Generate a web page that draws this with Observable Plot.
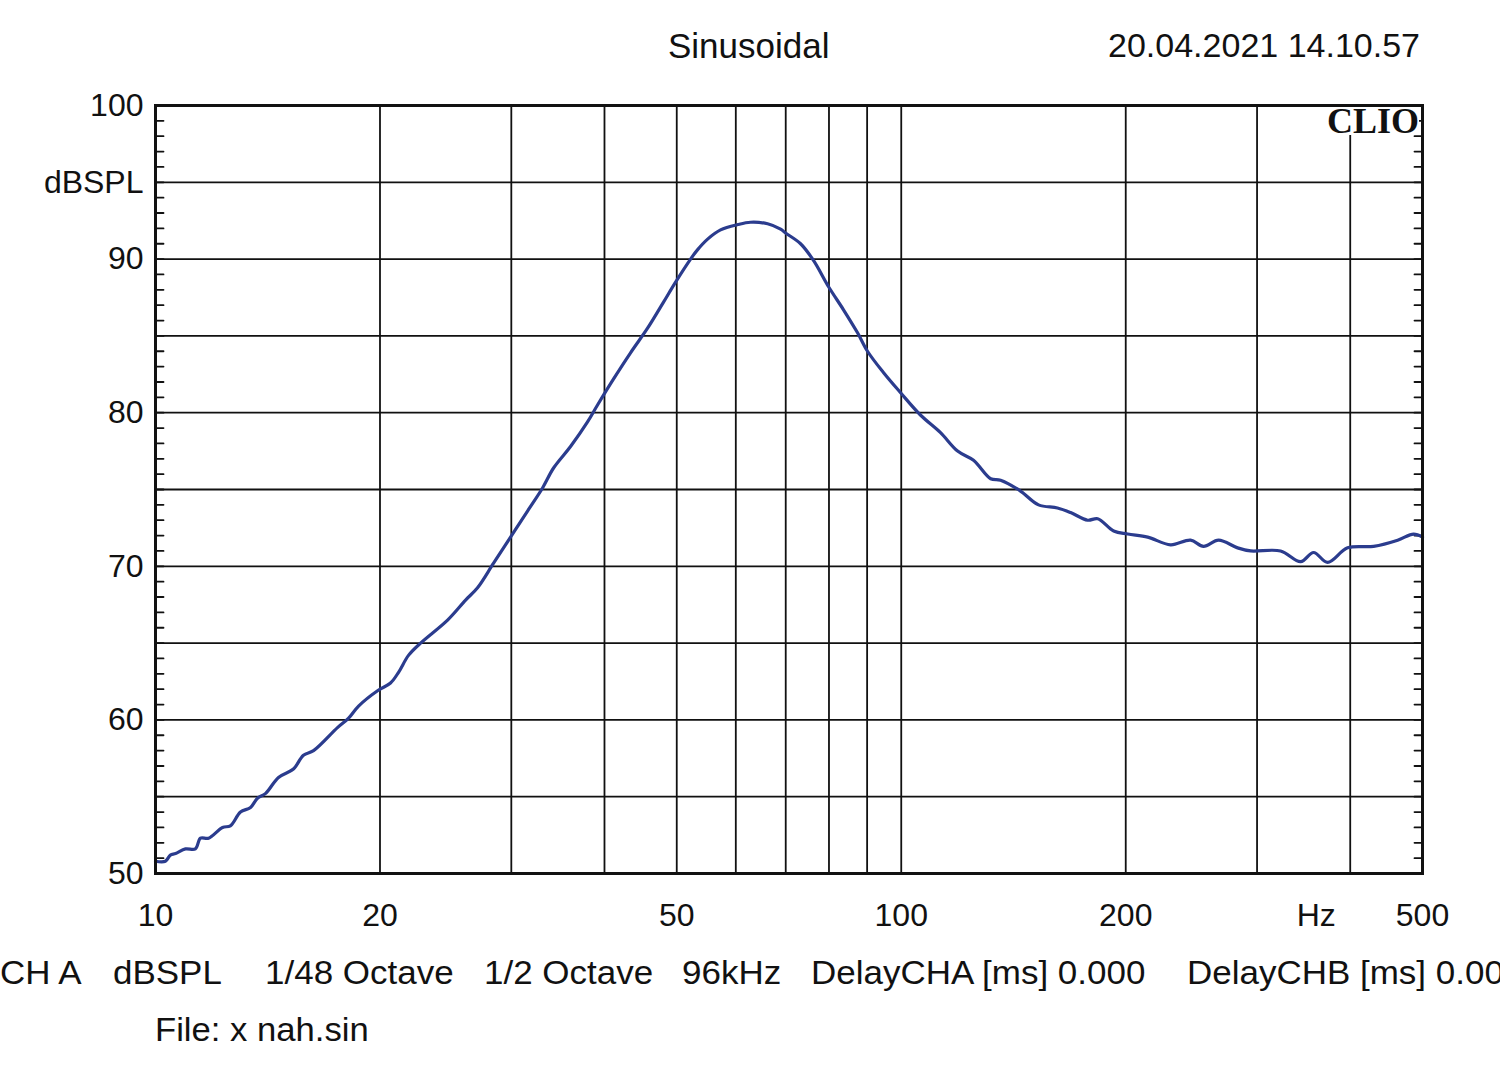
<!DOCTYPE html>
<html>
<head>
<meta charset="utf-8">
<script src="https://cdn.jsdelivr.net/npm/d3@7"></script>
<script src="https://cdn.jsdelivr.net/npm/@observablehq/plot@0.6"></script>
<style>
  html, body { margin: 0; padding: 0; background: white; }
  #wrap { position: relative; width: 1500px; height: 1085px; overflow: hidden; background: white;
          font-family: "Liberation Sans", Arial, sans-serif; color: #111; }
  #wrap svg { position: absolute; left: 0; top: 0; }
  .t { position: absolute; white-space: nowrap; line-height: 1; }
</style>
</head>
<body>
<div id="wrap"></div>
<script>
// ---- data ----
const freqHz = [10, 10.31, 10.47, 10.64, 10.97, 11.31, 11.49, 11.78, 12.3, 12.6, 13.0, 13.41, 13.7, 14.04, 14.62,
  15.31, 15.79, 16.29, 17.54, 18.14, 18.72, 19.85, 20.66, 21.18, 21.84, 22.67, 24.64, 26.05, 27.03, 28.4,
  29.93, 31.54, 33.04, 34.18, 36.02, 37.96, 39.15, 41.14, 43.35, 45.69, 48.0, 49.82, 52.18, 53.3, 55.0,
  57.24, 60.4, 62.8, 66.19, 68.9, 69.97, 73.28, 76.3, 79.9, 83.67, 87.38, 90.1, 94.7, 99.8, 106.1, 112.9,
  119.0, 125.0, 131.8, 135.9, 144.5, 152.8, 162.0, 168.7, 177.8, 183.4, 192.7, 201.2, 214.0, 229.7, 244.3,
  254.3, 266.4, 282.5, 294.1, 322.6, 343.2, 357.2, 373.0, 396.7, 429.9, 463.1, 486.4, 500];
const splDb = [50.8, 50.8, 51.2, 51.3, 51.6, 51.6, 52.3, 52.3, 53.0, 53.1, 54.0, 54.3, 54.9, 55.2, 56.25,
  56.8, 57.7, 58.0, 59.5, 60.1, 60.9, 61.9, 62.4, 63.1, 64.2, 65.0, 66.5, 67.8, 68.6, 70.2,
  71.9, 73.6, 75.1, 76.4, 77.8, 79.4, 80.5, 82.2, 83.9, 85.5, 87.2, 88.5, 90.0, 90.6, 91.3,
  91.9, 92.25, 92.4, 92.3, 91.95, 91.7, 91.0, 89.9, 88.2, 86.7, 85.2, 84.0, 82.6, 81.3, 79.85, 78.7,
  77.5, 76.9, 75.7, 75.6, 74.9, 74.0, 73.8, 73.5, 73.0, 73.1, 72.3, 72.1, 71.9, 71.4, 71.7,
  71.3, 71.7, 71.2, 71.0, 71.0, 70.3, 70.9, 70.25, 71.2, 71.3, 71.7, 72.1, 71.9];

const xGridValues = [10, 20, 30, 40, 50, 60, 70, 80, 90, 100, 200, 300, 400, 500];
const yGridValues = [50, 55, 60, 65, 70, 75, 80, 85, 90, 95, 100];
const yMinorValues = d3.range(50, 101, 1);
const xTickValues = [10, 20, 50, 100, 200, 500];
const xTickLabels = ["10", "20", "50", "100", "200", "500"];
const yTickValues = [100, 95, 90, 80, 70, 60, 50];
const yTickLabels = ["100", "dBSPL", "90", "80", "70", "60", "50"];
const xUnitAt = 400;
const xUnitLabel = "Hz";

const titleText = "Sinusoidal";
const dateText = "20.04.2021 14.10.57";
const brandText = "CLIO";
const footerItems = [
  {text: "CH A", left: 0},
  {text: "dBSPL", left: 113},
  {text: "1/48 Octave", left: 265},
  {text: "1/2 Octave", left: 484},
  {text: "96kHz", left: 682},
  {text: "DelayCHA [ms] 0.000", left: 811},
  {text: "DelayCHB [ms] 0.000", left: 1187}
];
const fileText = "File: x nah.sin";

// ---- chart ----
const curve = freqHz.map((f, i) => ({f, db: splDb[i]}));
const tickShape = {draw(ctx, l) { ctx.moveTo(0, 0); ctx.lineTo(0, -l); }};

const chart = Plot.plot({
  width: 1500,
  height: 1085,
  marginTop: 105,
  marginLeft: 155,
  marginRight: 78,
  marginBottom: 212,
  style: {fontFamily: "'Liberation Sans', Arial, sans-serif", fontSize: "32px", background: "transparent", color: "#111"},
  x: {type: "log", domain: [10, 500]},
  y: {domain: [50, 100]},
  marks: [
    Plot.ruleY(yGridValues, {stroke: "#111", strokeWidth: 1.8}),
    Plot.ruleX(xGridValues, {stroke: "#111", strokeWidth: 1.8}),
    Plot.vector(yMinorValues, {y: d => d, frameAnchor: "left", rotate: 90, length: 8, anchor: "start", shape: tickShape, stroke: "#111", strokeWidth: 1.8}),
    Plot.vector(yMinorValues, {y: d => d, frameAnchor: "right", rotate: -90, length: 8, anchor: "start", shape: tickShape, stroke: "#111", strokeWidth: 1.8}),
    Plot.line(curve, {x: "f", y: "db", stroke: "#2b3c8e", strokeWidth: 3.2, curve: "catmull-rom"}),
    Plot.frame({stroke: "#111", strokeWidth: 3}),
    Plot.axisY({ticks: yTickValues, tickFormat: d => yTickLabels[yTickValues.indexOf(d)], tickSize: 0, tickPadding: 12, label: null, fontSize: 32}),
    Plot.axisX({ticks: xTickValues, tickFormat: d => xTickLabels[xTickValues.indexOf(d)], tickSize: 0, tickPadding: 30, label: null, fontSize: 32}),
    Plot.axisX({ticks: [xUnitAt], tickFormat: () => xUnitLabel, tickSize: 0, tickPadding: 30, dx: -34, label: null, fontSize: 32})
  ]
});

const wrap = document.getElementById("wrap");
wrap.appendChild(chart);

function addText(text, css) {
  const d = document.createElement("div");
  d.className = "t";
  d.textContent = text;
  Object.assign(d.style, css);
  wrap.appendChild(d);
  return d;
}
addText(titleText, {left: "668px", top: "28px", fontSize: "35px"});
addText(dateText, {right: "80px", top: "28px", fontSize: "34px"});
addText(brandText, {right: "81px", top: "107px", fontSize: "36px", lineHeight: "28px", fontWeight: "bold",
  fontFamily: "'Liberation Serif', 'DejaVu Serif', serif", background: "white", padding: "0 0 0 4px"});
footerItems.forEach(it => addText(it.text, {left: it.left + "px", top: "956px", fontSize: "33px",
  transform: "scaleX(1.06)", transformOrigin: "left center"}));
addText(fileText, {left: "155px", top: "1013px", fontSize: "33px", transform: "scaleX(1.05)", transformOrigin: "left center"});
</script>
</body>
</html>
